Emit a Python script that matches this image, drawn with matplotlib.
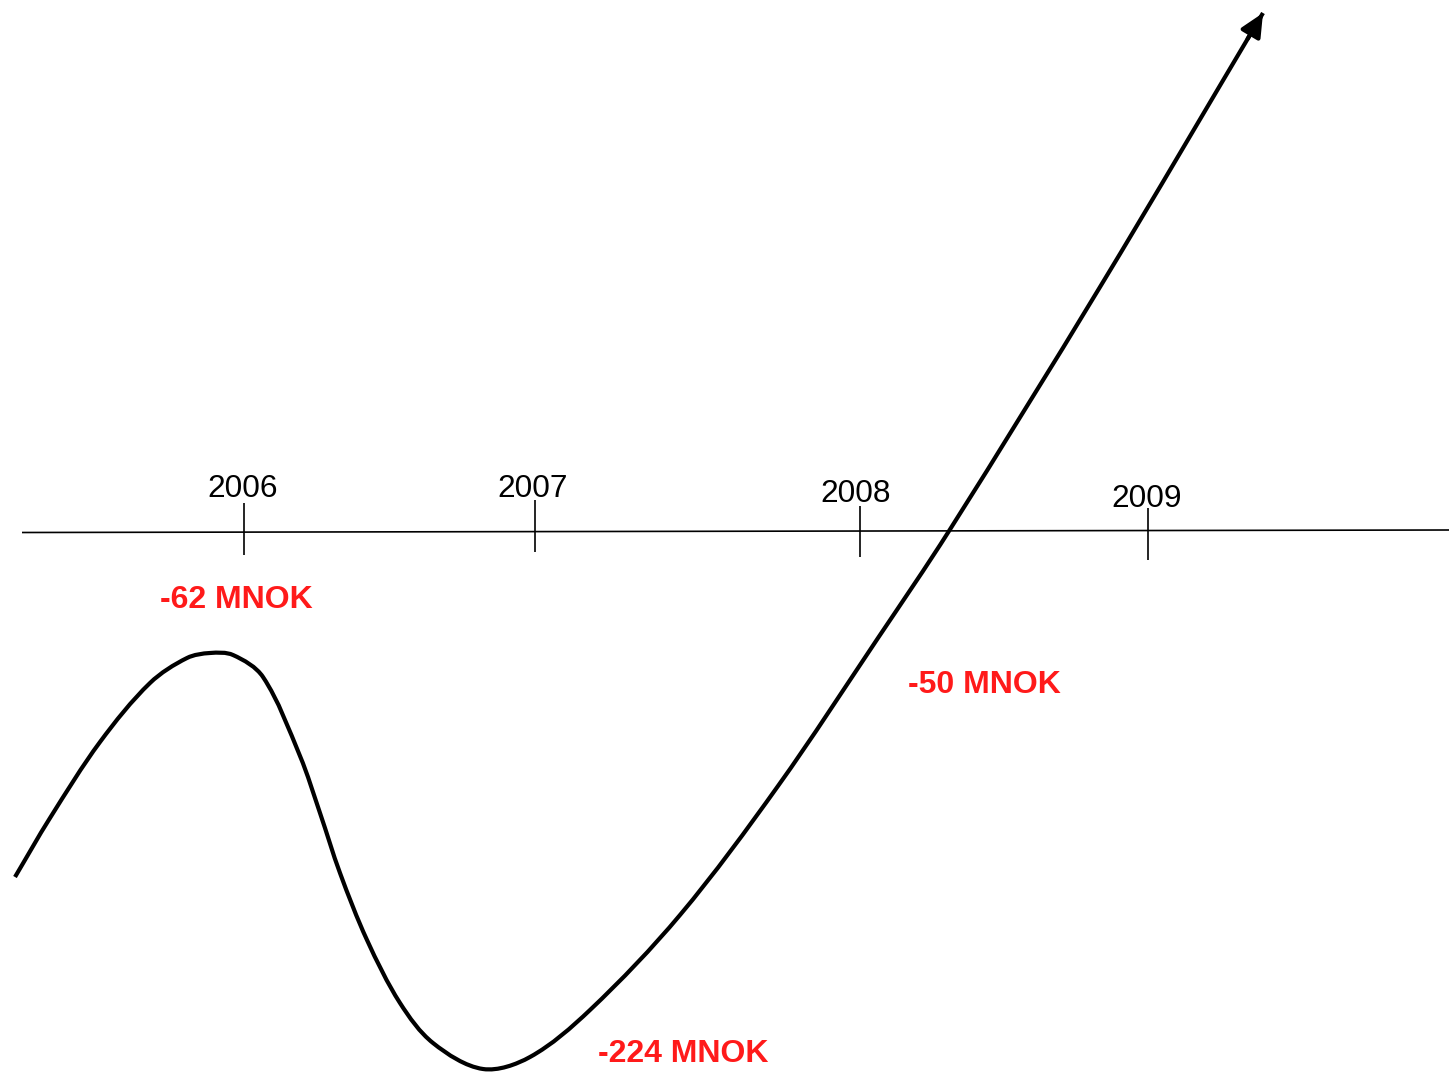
import numpy as np
import matplotlib
matplotlib.use("Agg")
import matplotlib.pyplot as plt
from matplotlib.path import Path
from matplotlib.patches import PathPatch

# ---- data (in picture units) ----
years = ["2006", "2007", "2008", "2009"]
year_x = [244, 535, 860, 1148]
tick_top = [503, 500, 506, 508]
tick_bottom = [555, 552, 557, 560]
label_x = [242.5, 532.5, 855.5, 1146.5]
label_base = [497, 497, 502, 507]

value_labels = ["-62 MNOK", "-224 MNOK", "-50 MNOK"]
value_x = [236, 683.5, 984]
value_base = [608, 1062, 693]

axis_x = [22, 1449]
axis_y = [532.5, 530]

curve_x = [15, 50, 100, 150, 187, 210, 233, 263, 300, 320, 340, 367, 400, 433,
           483, 530, 590, 680, 778, 878, 949, 1100, 1263]
curve_y = [877, 818, 742, 683, 658, 653, 655, 677, 756, 813, 873, 940, 1003, 1043,
           1069, 1057, 1010, 915, 786, 638, 531, 287, 13]

W, H = 1449, 1073
fig = plt.figure(figsize=(W / 100, H / 100), dpi=100)
ax = fig.add_axes([0, 0, 1, 1])
ax.set_xlim(0, W)
ax.set_ylim(H, 0)
ax.axis("off")

# horizontal time axis
ax.plot(axis_x, axis_y, color="black", lw=1.2, solid_capstyle="butt")
for x, t0, t1 in zip(year_x, tick_top, tick_bottom):
    ax.plot([x, x], [t0, t1], color="black", lw=1.2, solid_capstyle="butt")
for lab, x, y in zip(years, label_x, label_base):
    ax.text(x, y, lab, ha="center", va="baseline", fontsize=22.8,
            family="Liberation Sans", color="black")

# red value labels
for lab, x, y in zip(value_labels, value_x, value_base):
    ax.text(x, y, lab, ha="center", va="baseline", fontsize=23,
            family="Liberation Sans", fontweight="bold", color="#FF1A1A")

# smooth curve through the read points
# (chord-length Catmull-Rom expressed as cubic Bezier segments)
P = np.column_stack([curve_x, curve_y]).astype(float)
n = len(P)
t = np.concatenate([[0.0], np.cumsum(np.linalg.norm(np.diff(P, axis=0), axis=1))])
M = np.zeros_like(P)
M[0] = (P[1] - P[0]) / (t[1] - t[0])
M[-1] = (P[-1] - P[-2]) / (t[-1] - t[-2])
for i in range(1, n - 1):
    M[i] = (P[i + 1] - P[i - 1]) / (t[i + 1] - t[i - 1])
verts = [tuple(P[0])]
codes = [Path.MOVETO]
for i in range(n - 1):
    h = t[i + 1] - t[i]
    c1 = P[i] + M[i] * h / 3.0
    c2 = P[i + 1] - M[i + 1] * h / 3.0
    verts += [tuple(c1), tuple(c2), tuple(P[i + 1])]
    codes += [Path.CURVE4] * 3
path = Path(verts, codes)

ax.add_patch(PathPatch(path, fill=False, lw=3.0, edgecolor="black",
                       capstyle="butt", joinstyle="round"))

# arrow head at the end of the curve
tip = P[-1]
back = P[-1] - M[-1] * 30.0
ax.annotate("", xy=tuple(tip), xytext=tuple(back),
            arrowprops=dict(arrowstyle="-|>,head_length=0.7,head_width=0.33",
                            mutation_scale=20, lw=3.0, color="black",
                            shrinkA=0, shrinkB=0))

fig.savefig("out.png", dpi=100, facecolor="white")
